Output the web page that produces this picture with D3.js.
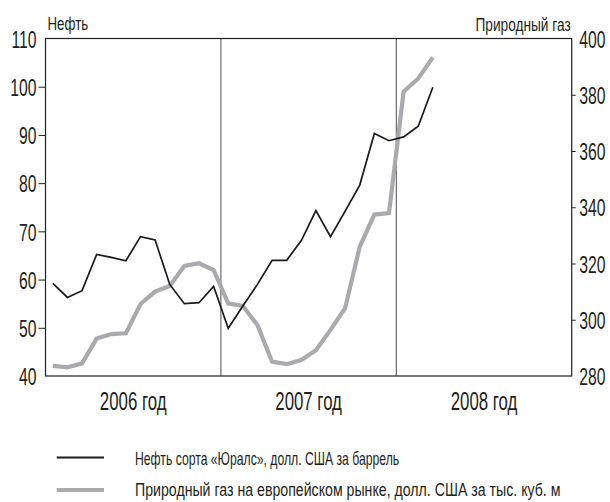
<!DOCTYPE html>
<html>
<head>
<meta charset="utf-8">
<script src="https://cdn.jsdelivr.net/npm/d3@7"></script>
<style>
  body { margin: 0; background: #fff; }
  svg text { font-family: "Liberation Sans", Arial, sans-serif; fill: #231f20; }
</style>
</head>
<body>
<div id="chart"></div>
<script>
// data, monthly from Jan 2006
const years = ["2006 год", "2007 год", "2008 год"];
const oil = [59.2, 56.3, 57.7, 65.2, 64.6, 63.9, 68.9, 68.2, 59.0, 55.0, 55.2, 58.6,
             49.9, 54.5, 59.0, 64.0, 64.0, 68.1, 74.3, 68.9, 74.2, 79.6, 90.3, 88.8,
             89.6, 91.8, 99.9];
const gas = [283.6, 283.1, 284.5, 293.3, 294.9, 295.2, 305.6, 310.0, 312.0, 319.1, 320.1, 317.7,
             305.8, 304.9, 298.1, 285.1, 284.2, 285.7, 289.2, 296.4, 304.1, 326.0, 337.4, 337.9,
             381.1, 385.8, 393.3];
const oilTicks = [40, 50, 60, 70, 80, 90, 100, 110];
const gasTicks = [280, 300, 320, 340, 360, 380, 400];
const axisTitles = ["Нефть", "Природный газ"];
const legendLabels = ["Нефть сорта «Юралс», долл. США за баррель",
                      "Природный газ на европейском рынке, долл. США за тыс. куб. м"];

// set the dimensions
const W = 610, H = 502;
const plot = {left: 45.5, right: 571.7, top: 38.5, bottom: 376};
const narrow = 0.67;   // condensed look for tick labels
const legendSquash = [0.66, 0.765];

const svg = d3.select("#chart")
  .append("svg")
    .attr("width", W)
    .attr("height", H);

// scales
const x = d3.scaleLinear().domain([0, 36]).range([plot.left, plot.right]);
const yOil = d3.scaleLinear().domain([40, 110]).range([plot.bottom, plot.top]);
const yGas = d3.scaleLinear().domain([280, 400]).range([plot.bottom, plot.top]);

// left axis
const leftAxis = svg.append("g")
  .attr("transform", `translate(${plot.left},0)`)
  .call(d3.axisLeft(yOil).tickValues(oilTicks).tickSize(7).tickPadding(0));
leftAxis.select(".domain").remove();
leftAxis.selectAll(".tick line")
  .attr("stroke", "#231f20")
  .attr("opacity", d => (d == 40 || d == 110) ? 0 : 1);
leftAxis.selectAll(".tick text")
  .attr("font-size", 23.5)
  .attr("font-family", null)
  .attr("x", -9 / narrow)
  .attr("dy", "0.37em")
  .attr("transform", `scale(${narrow},1)`);

// right axis
const rightAxis = svg.append("g")
  .attr("transform", `translate(${plot.right},0)`)
  .call(d3.axisRight(yGas).tickValues(gasTicks).tickSize(4).tickPadding(0));
rightAxis.select(".domain").remove();
rightAxis.selectAll(".tick line")
  .attr("stroke", "#231f20")
  .attr("opacity", d => (d == 280 || d == 400) ? 0 : 1);
rightAxis.selectAll(".tick text")
  .attr("font-size", 23.5)
  .attr("font-family", null)
  .attr("x", 7.5 / narrow)
  .attr("dy", "0.37em")
  .attr("transform", `scale(${narrow},1)`);

// axis titles
svg.append("text")
  .attr("transform", `translate(${plot.left + 2},30) scale(0.72,1)`)
  .attr("font-size", 18.5)
  .text(axisTitles[0]);
svg.append("text")
  .attr("transform", `translate(${plot.right - 1},30.5) scale(0.74,1)`)
  .attr("font-size", 18.5)
  .attr("text-anchor", "end")
  .text(axisTitles[1]);

// year separators
svg.selectAll(".sep")
  .data([12, 24])
  .join("line")
    .attr("x1", d => x(d)).attr("x2", d => x(d))
    .attr("y1", plot.top).attr("y2", plot.bottom)
    .attr("stroke", "#4d4d4d")
    .attr("stroke-width", 1);

// year labels
svg.selectAll(".year")
  .data(years)
  .join("text")
    .attr("transform", (d, i) => `translate(${x(i * 12 + 6)},410) scale(0.66,1)`)
    .attr("text-anchor", "middle")
    .attr("font-size", 25.5)
    .text(d => d);

// lines
const gasLine = d3.line().x((d, i) => x(i + 0.5)).y(d => yGas(d));
const oilLine = d3.line().x((d, i) => x(i + 0.5)).y(d => yOil(d));

svg.append("path")
  .datum(gas)
  .attr("d", gasLine)
  .attr("fill", "none")
  .attr("stroke", "#a8aaad")
  .attr("stroke-width", 4.2);

svg.append("path")
  .datum(oil)
  .attr("d", oilLine)
  .attr("fill", "none")
  .attr("stroke", "#1a1a1a")
  .attr("stroke-width", 1.7);

// frame
svg.append("rect")
  .attr("x", plot.left).attr("y", plot.top)
  .attr("width", plot.right - plot.left)
  .attr("height", plot.bottom - plot.top)
  .attr("fill", "none")
  .attr("stroke", "#231f20")
  .attr("stroke-width", 1.2);

// legend
const legend = svg.selectAll(".legend")
  .data(legendLabels)
  .join("g")
    .attr("transform", (d, i) => `translate(0,${457.5 + i * 32.5})`);
legend.append("line")
  .attr("x1", 56.7).attr("x2", 104)
  .attr("stroke", (d, i) => i == 0 ? "#1a1a1a" : "#a8aaad")
  .attr("stroke-width", (d, i) => i == 0 ? 2 : 4.2);
legend.append("text")
  .attr("transform", (d, i) => `translate(135,${i == 0 ? 7.2 : 5.5}) scale(${legendSquash[i]},1)`)
  .attr("font-size", 18.5)
  .text(d => d);
</script>
</body>
</html>
